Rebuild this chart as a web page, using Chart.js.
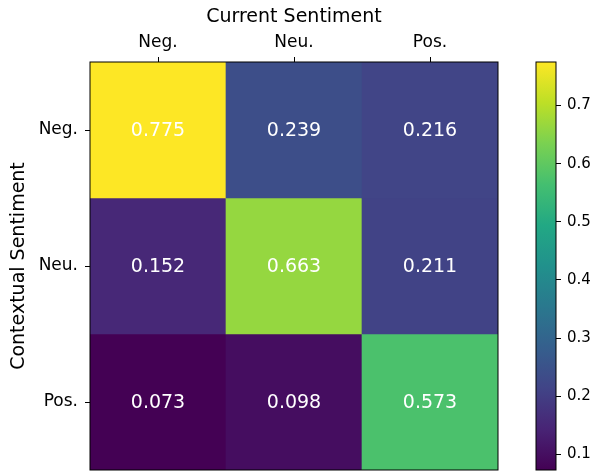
<!DOCTYPE html>
<html>
<head>
<meta charset="utf-8">
<script src="https://cdn.jsdelivr.net/npm/chart.js@4"></script>
<style>
    body { margin: 0; background: #fff; }
    #wrap { position: relative; width: 597px; height: 474px; }
    #heatmap { position: absolute; left: 0; top: 0; }
    #colorbar { position: absolute; left: 520px; top: 0; }
</style>
</head>
<body>
<div id="wrap">
    <canvas id="heatmap" width="597" height="474"></canvas>
    <canvas id="colorbar" width="77" height="474"></canvas>
</div>
<script>
    // categories (columns = current, rows = contextual)
    const currentLabels = ['Neg.', 'Neu.', 'Pos.'];
    const contextLabels = ['Neg.', 'Neu.', 'Pos.'];

    // one array per row of the matrix
    const rowNeg = [0.775, 0.239, 0.216];
    const rowNeu = [0.152, 0.663, 0.211];
    const rowPos = [0.073, 0.098, 0.573];
    const rows = [rowNeg, rowNeu, rowPos];

    // colour bar range and ticks
    const vmin = 0.073;
    const vmax = 0.775;
    const barTicks = [0.1, 0.2, 0.3, 0.4, 0.5, 0.6, 0.7];

    const FONT = "'DejaVu Sans', sans-serif";
    Chart.defaults.color = '#000';
    Chart.defaults.font.family = FONT;

    // viridis stops
    const viridis = ['#440154', '#482475', '#414487', '#355f8d', '#2a788e', '#21918c',
                     '#22a884', '#44bf70', '#7ad151', '#bddf26', '#fde725'];

    function hexToRgb(h) {
        return [parseInt(h.slice(1, 3), 16), parseInt(h.slice(3, 5), 16), parseInt(h.slice(5, 7), 16)];
    }

    function colorFor(v) {
        let t = (v - vmin) / (vmax - vmin);
        t = Math.max(0, Math.min(1, t));
        const pos = t * (viridis.length - 1);
        const i = Math.min(Math.floor(pos), viridis.length - 2);
        const f = pos - i;
        const a = hexToRgb(viridis[i]), b = hexToRgb(viridis[i + 1]);
        const c = a.map((x, k) => Math.round(x + (b[k] - x) * f));
        return `rgb(${c[0]}, ${c[1]}, ${c[2]})`;
    }

    // no extra room for half tick labels at the ends of a vertical axis
    function noEndPadding(scale) {
        scale.paddingTop = 0;
        scale.paddingBottom = 0;
    }

    // black frame around the plot area
    const frame = {
        id: 'frame',
        afterDraw(chart) {
            const { ctx, chartArea: a } = chart;
            ctx.save();
            ctx.strokeStyle = '#000';
            ctx.lineWidth = 1;
            ctx.strokeRect(a.left, a.top, a.right - a.left, a.bottom - a.top);
            ctx.restore();
        }
    };

    // white value labels in each cell
    const cellText = {
        id: 'cellText',
        afterDatasetsDraw(chart) {
            const ctx = chart.ctx;
            ctx.save();
            ctx.fillStyle = '#fff';
            ctx.font = '19px ' + FONT;
            ctx.textAlign = 'center';
            ctx.textBaseline = 'middle';
            chart.data.datasets.forEach((ds, r) => {
                chart.getDatasetMeta(r).data.forEach((bar, c) => {
                    const p = bar.getCenterPoint();
                    ctx.fillText(rows[r][c].toFixed(3), p.x, p.y + 1);
                });
            });
            ctx.restore();
        }
    };

    // each row is a stacked band of height 1, coloured by its value
    const datasets = rows.map((row, r) => ({
        label: contextLabels[r],
        data: row.map(() => 1),
        backgroundColor: row.map(colorFor),
        borderWidth: 0,
        barPercentage: 1,
        categoryPercentage: 1
    }));

    new Chart(document.getElementById('heatmap'), {
        type: 'bar',
        data: { labels: currentLabels, datasets: datasets },
        options: {
            responsive: false,
            animation: false,
            layout: { padding: { left: 0, right: 99, top: 0, bottom: 4 } },
            plugins: { legend: { display: false }, tooltip: { enabled: false } },
            scales: {
                x: {
                    position: 'top',
                    stacked: true,
                    grid: { display: true, drawOnChartArea: false, offset: false, tickLength: 5, color: '#000' },
                    border: { display: false },
                    ticks: { font: { size: 17 }, padding: 4, maxRotation: 0 },
                    title: { display: true, text: 'Current Sentiment', font: { size: 19 }, padding: { top: 6, bottom: 0 } },
                    afterFit(scale) { scale.height = 62; }
                },
                y: {
                    stacked: true,
                    reverse: true,
                    min: 0,
                    max: 3,
                    grid: { display: true, drawOnChartArea: false, tickLength: 5, color: '#000' },
                    border: { display: false },
                    afterBuildTicks(scale) {
                        scale.ticks = contextLabels.map((l, i) => ({ value: i + 0.5 }));
                    },
                    ticks: {
                        font: { size: 17 },
                        padding: 7,
                        callback: (v) => contextLabels[Math.floor(v)]
                    },
                    title: { display: true, text: 'Contextual Sentiment', font: { size: 19 }, padding: { top: 8, bottom: 0 } },
                    afterFit(scale) { scale.width = 90; noEndPadding(scale); }
                }
            }
        },
        plugins: [frame, cellText]
    });

    // colour bar: one floating bar spanning vmin..vmax with a viridis gradient
    new Chart(document.getElementById('colorbar'), {
        type: 'bar',
        data: {
            labels: [''],
            datasets: [{
                data: [[vmin, vmax]],
                backgroundColor(ctx) {
                    const a = ctx.chart.chartArea;
                    if (!a) return viridis[0];
                    const g = ctx.chart.ctx.createLinearGradient(0, a.bottom, 0, a.top);
                    viridis.forEach((c, i) => g.addColorStop(i / (viridis.length - 1), c));
                    return g;
                },
                borderWidth: 0,
                barPercentage: 1,
                categoryPercentage: 1
            }]
        },
        options: {
            responsive: false,
            animation: false,
            layout: { padding: { left: 16, right: 0, top: 62, bottom: 4 } },
            plugins: { legend: { display: false }, tooltip: { enabled: false } },
            scales: {
                x: { display: false },
                y: {
                    position: 'right',
                    min: vmin,
                    max: vmax,
                    grid: { display: true, drawOnChartArea: false, tickLength: 5, color: '#000' },
                    border: { display: false },
                    afterBuildTicks(scale) {
                        scale.ticks = barTicks.map(v => ({ value: v }));
                    },
                    ticks: { font: { size: 15 }, padding: 6, callback: (v) => v.toFixed(1) },
                    afterFit(scale) { scale.width = 41; noEndPadding(scale); }
                }
            }
        },
        plugins: [frame]
    });
</script>
</body>
</html>
